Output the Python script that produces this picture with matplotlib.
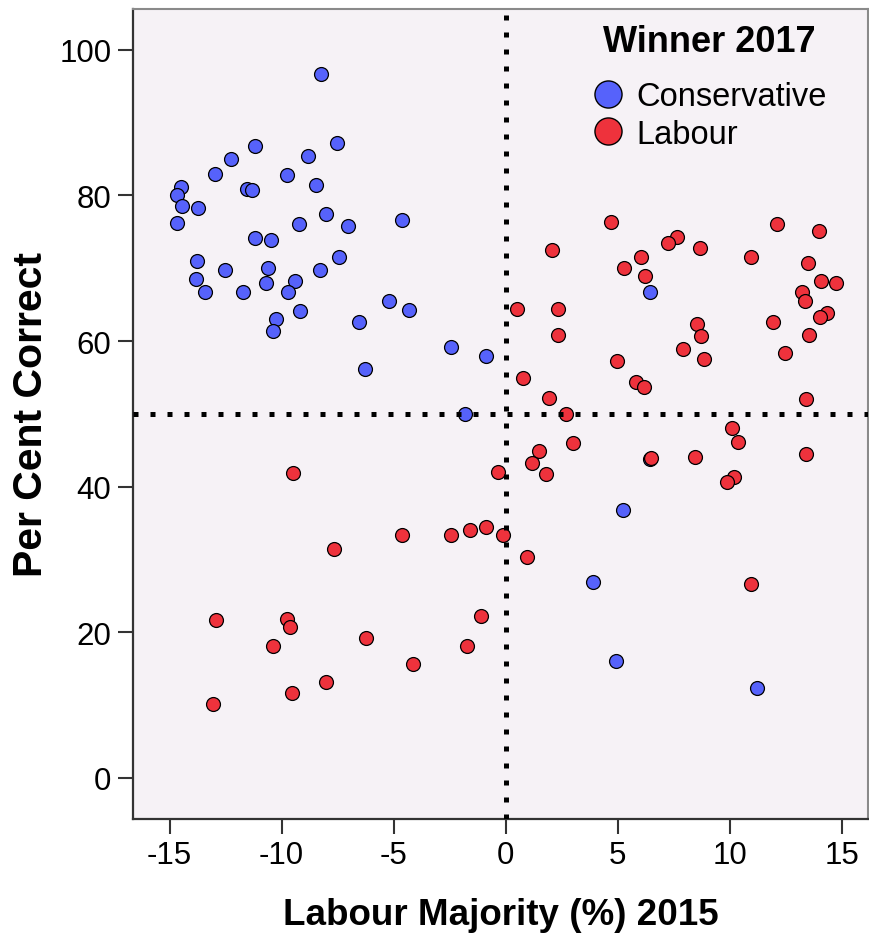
import matplotlib
matplotlib.use("Agg")
from matplotlib import pyplot as plt
from matplotlib.lines import Line2D

# Conservative winners 2017
con_x = [-8.25, -7.51, -11.17, -12.25, -8.83, -12.97, -9.77, -8.47, -14.5, -14.68,
         -11.53, -11.33, -14.43, -13.73, -14.68, -9.2, -8.01, -7.04, -4.62, -11.17,
         -10.45, -13.77, -12.52, -10.62, -7.43, -8.28, -13.82, -10.68, -9.41, -13.43,
         -11.73, -9.71, -9.17, -10.23, -10.37, -6.52, -5.19, -4.29, -6.27, -2.43,
         -0.88, -1.81, 6.45, 5.23, 3.91, 4.95, 11.23, 6.45]
con_y = [96.7, 87.2, 86.8, 85.0, 85.4, 82.9, 82.8, 81.4, 81.1, 80.1,
         80.9, 80.7, 78.5, 78.3, 76.2, 76.1, 77.5, 75.8, 76.6, 74.2,
         73.9, 71.0, 69.8, 70.1, 71.5, 69.8, 68.5, 68.0, 68.3, 66.8,
         66.8, 66.8, 64.1, 63.0, 61.4, 62.6, 65.5, 64.3, 56.1, 59.2,
         58.0, 50.0, 66.7, 36.8, 26.9, 16.1, 12.4, 43.8]

# Labour winners 2017
lab_x = [4.71, 12.13, 13.98, 7.66, 7.27, 8.68, 2.09, 6.05, 10.95, 5.28,
         13.49, 6.21, 14.08, 14.75, 13.25, 13.38, 0.53, 2.33, 14.34, 14.04,
         11.94, 8.56, 2.34, 8.73, 13.54, 7.92, 12.46, 8.88, 4.98, 0.78,
         5.84, 6.2, 1.96, 13.43, 2.7, 10.1, 10.38, 3.0, 1.48, 1.17,
         6.51, 8.45, 13.42, 1.82, -0.33, 10.22, 9.9, 0.96, 10.97,
         -9.47, -4.63, -2.42, -1.57, -0.86, -0.13, -7.67, -1.11, -12.91, -9.74,
         -9.62, -1.73, -10.38, -6.23, -4.12, -8.0, -9.55, -13.04]
lab_y = [76.3, 76.1, 75.1, 74.3, 73.4, 72.8, 72.5, 71.5, 71.5, 70.1,
         70.7, 69.0, 68.3, 68.0, 66.8, 65.5, 64.4, 64.4, 63.8, 63.3,
         62.6, 62.3, 60.8, 60.7, 60.9, 58.9, 58.4, 57.6, 57.2, 54.9,
         54.4, 53.7, 52.2, 52.1, 50.0, 48.1, 46.2, 46.0, 44.9, 43.3,
         44.0, 44.1, 44.5, 41.8, 42.0, 41.4, 40.6, 30.3, 26.6,
         41.9, 33.3, 33.3, 34.1, 34.4, 33.3, 31.5, 22.2, 21.7, 21.8,
         20.7, 18.1, 18.1, 19.2, 15.6, 13.2, 11.7, 10.2]

x_ticks = [-15, -10, -5, 0, 5, 10, 15]
y_ticks = [0, 20, 40, 60, 80, 100]

BLUE = "#5662fb"
RED = "#ee323c"
BG = "#f6f2f6"

plt.rcParams["font.family"] = ["Liberation Sans", "DejaVu Sans"]
plt.rcParams["axes.unicode_minus"] = False

fig = plt.figure(figsize=(8.7, 9.37), dpi=100)
ax = fig.add_axes([0.1529, 0.1249, 0.8448, 0.8644])
ax.set_facecolor(BG)

ax.scatter(con_x, con_y, s=100, c=BLUE, edgecolors="black", linewidths=0.9, zorder=3)
ax.scatter(lab_x, lab_y, s=100, c=RED, edgecolors="black", linewidths=0.9, zorder=3)

# reference lines at 0 and 50, drawn over the points
dots = (0, (1, 2.4))
ax.axvline(0, color="black", lw=3.6, linestyle=dots, dash_capstyle="butt", zorder=4)
ax.axhline(50, color="black", lw=3.6, linestyle=dots, dash_capstyle="butt", zorder=4)

ax.set_xlim(-16.63, 16.18)
ax.set_ylim(-5.63, 105.6)
ax.set_xticks(x_ticks)
ax.set_yticks(y_ticks)
ax.tick_params(labelsize=22.5, length=10.5, width=1.5, pad=5, color="#333333")

for side in ["left", "bottom"]:
    ax.spines[side].set_color("#333333")
    ax.spines[side].set_linewidth(1.6)
for side in ["top", "right"]:
    ax.spines[side].set_color("#8a8a8a")
    ax.spines[side].set_linewidth(1.5)

ax.set_xlabel("Labour Majority (%) 2015", fontsize=26.5, fontweight="bold", labelpad=19)
ax.set_ylabel("Per Cent Correct", fontsize=29.5, fontweight="bold", labelpad=7)

# legend: title as separate text so the gap below it matches
ax.text(0.639, 0.960, "Winner 2017", transform=ax.transAxes, fontsize=26,
        fontweight="bold", ha="left", va="center")
handles = [
    Line2D([], [], marker="o", ls="", markersize=19.5, markerfacecolor=BLUE,
           markeredgecolor="black", markeredgewidth=1.0),
    Line2D([], [], marker="o", ls="", markersize=19.5, markerfacecolor=RED,
           markeredgecolor="black", markeredgewidth=1.0),
]
leg = ax.legend(handles, ["Conservative", "Labour"],
                loc="upper left", bbox_to_anchor=(0.624, 0.911), frameon=False,
                fontsize=23.5, handletextpad=0.36, labelspacing=0.2,
                borderaxespad=0.0, borderpad=0.0, handlelength=1.0)

fig.savefig("out.png", dpi=100, facecolor="white")
